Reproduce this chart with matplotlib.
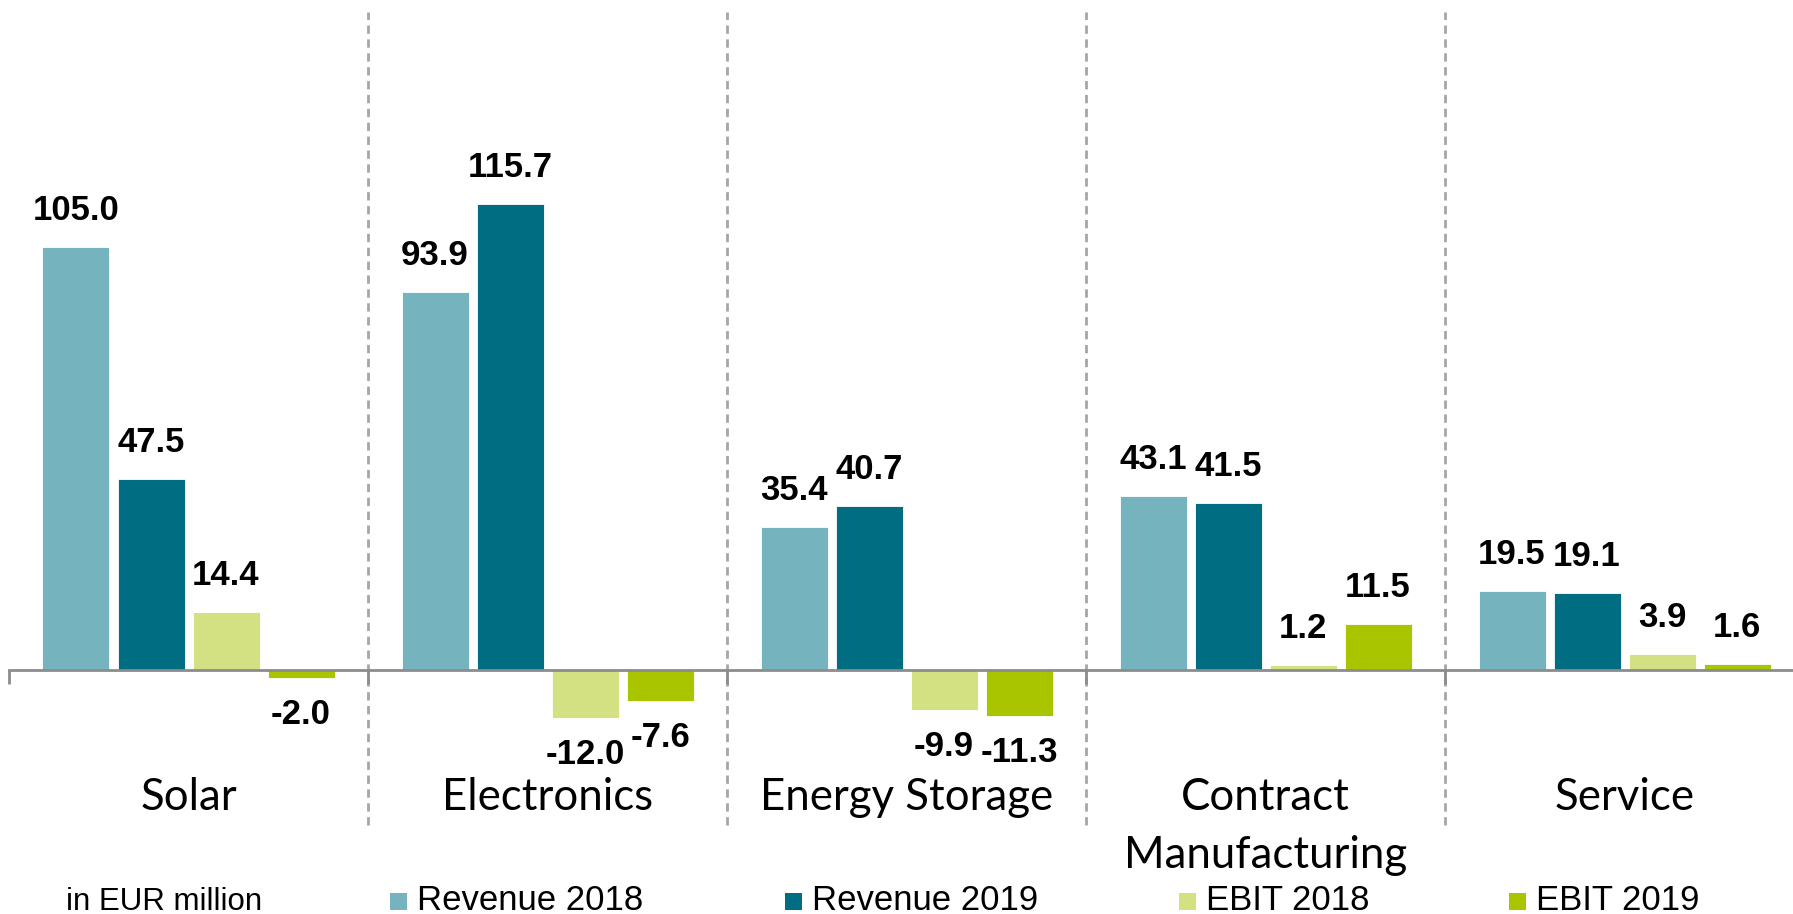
"""Segment revenue and EBIT, 2018 vs 2019."""

import matplotlib
matplotlib.use("Agg")
import matplotlib.pyplot as plt
from matplotlib.patches import Rectangle
import numpy as np

categories = ["Solar", "Electronics", "Energy Storage", "Contract\nManufacturing", "Service"]
series_names = ["Revenue 2018", "Revenue 2019", "EBIT 2018", "EBIT 2019"]
revenue_2018 = [105.0, 93.9, 35.4, 43.1, 19.5]
revenue_2019 = [47.5, 115.7, 40.7, 41.5, 19.1]
ebit_2018 = [14.4, -12.0, -9.9, 1.2, 3.9]
ebit_2019 = [-2.0, -7.6, -11.3, 11.5, 1.6]
colors = ["#75B3BE", "#006D82", "#D3E182", "#A8C500"]
unit_note = "in EUR million"

W, H, DPI = 1793, 914, 100
PX_PER_UNIT = 4.03
ZERO_Y = 670          # pixel row of the zero line (from top)
CAT_W = 359           # pixels per category
LEFT = 9
YMIN, YMAX = -42, 168

fig = plt.figure(figsize=(W / DPI, H / DPI), dpi=DPI)
ax_h = (YMAX - YMIN) * PX_PER_UNIT
ax_bottom = (H - ZERO_Y) + YMIN * PX_PER_UNIT
ax = fig.add_axes([LEFT / W, ax_bottom / H, len(categories) * CAT_W / W, ax_h / H])
ax.set_xlim(-0.5, len(categories) - 0.5)
ax.set_ylim(YMIN, YMAX)

x = np.arange(len(categories))
pitch = 75 / CAT_W
width = 67 / CAT_W
label_font = dict(family="Liberation Sans", weight="bold", size=25, color="black")
for i, (vals, color) in enumerate(zip([revenue_2018, revenue_2019, ebit_2018, ebit_2019], colors)):
    pos = x + (i - 1.5) * pitch
    bars = ax.bar(pos, vals, width=width, color=color, edgecolor="white", linewidth=0.6, zorder=3)
    for b, v in zip(bars, vals):
        off = 14.4 if v >= 0 else -14.4
        ax.annotate(f"{v:.1f}", (b.get_x() + b.get_width() / 2, v), xytext=(0, off),
                    textcoords="offset points", ha="center",
                    va="bottom" if v >= 0 else "top", **label_font)

# dashed separators between categories
ax.vlines(np.arange(len(categories) - 1) + 0.5, (ZERO_Y - 825) / PX_PER_UNIT,
          (ZERO_Y - 12) / PX_PER_UNIT, colors="#A6A6A6", linewidth=2,
          linestyles=(0, (3, 2)), zorder=1)

for s in ["top", "right", "left"]:
    ax.spines[s].set_visible(False)
ax.spines["bottom"].set_position(("data", 0))
ax.spines["bottom"].set_color("#8C8C8C")
ax.spines["bottom"].set_linewidth(2)
ax.spines["bottom"].set_zorder(4)
ax.set_yticks([])
ax.set_xticks(np.arange(len(categories) + 1) - 0.5)
ax.set_xticklabels([])
ax.tick_params(axis="x", direction="out", length=10, width=2, color="#8C8C8C")

for xi, name in zip(x, categories):
    ax.text(xi, (ZERO_Y - 777) / PX_PER_UNIT, name, ha="center", va="top",
            family="Lato", size=31.5, color="black", linespacing=1.5)

# legend row
fig.text(66 / W, 1 - 910 / H, unit_note, ha="left", va="baseline",
         family="Liberation Sans", size=22.5, color="black")
for name, color, mx in zip(series_names, colors, [390, 785, 1179, 1509]):
    fig.patches.append(Rectangle((mx / W, 1 - 910 / H), 17 / W, 17 / H,
                                 transform=fig.transFigure, facecolor=color,
                                 edgecolor="none", figure=fig))
    fig.text((mx + 27) / W, 1 - 910 / H, name, ha="left", va="baseline",
             family="Liberation Sans", size=25, color="black")

fig.savefig("out.png", dpi=DPI)
